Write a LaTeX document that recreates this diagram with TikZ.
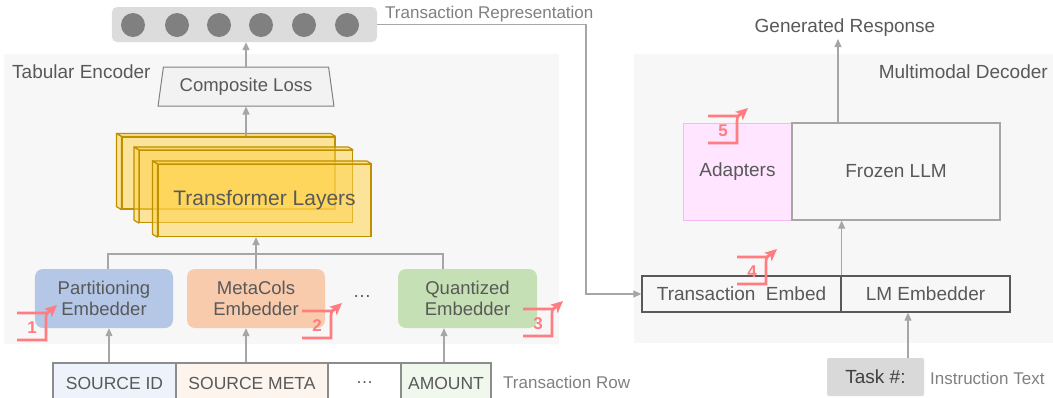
\documentclass[tikz,border=0pt]{standalone}
\usepackage{fontspec}
\setmainfont{Liberation Sans}
\usetikzlibrary{shapes.geometric,arrows.meta}
\definecolor{panelc}{HTML}{F7F7F7}
\definecolor{barc}{HTML}{DCDCDC}
\definecolor{dotc}{HTML}{808080}
\definecolor{linec}{HTML}{A6A6A6}
\definecolor{txtc}{HTML}{595959}
\definecolor{labc}{HTML}{808080}
\definecolor{partc}{HTML}{B4C7E7}
\definecolor{metac}{HTML}{F8CBAD}
\definecolor{quantc}{HTML}{C5E0B4}
\definecolor{srcidc}{HTML}{EEF2FA}
\definecolor{srcmetac}{HTML}{FDF4EE}
\definecolor{amountc}{HTML}{F0F7ED}
\definecolor{cellb}{HTML}{8C8C8C}
\definecolor{tfillc}{HTML}{FFD34D}
\definecolor{tdrawc}{HTML}{BF9000}
\definecolor{adaptc}{HTML}{FFE5FF}
\definecolor{adaptb}{HTML}{F5B8F5}
\definecolor{embb}{HTML}{595959}
\definecolor{taskc}{HTML}{D9D9D9}
\definecolor{taskt}{HTML}{404040}
\definecolor{mkc}{HTML}{FF7C80}
\definecolor{lossb}{HTML}{808080}
\definecolor{lossf}{HTML}{F2F2F2}
\tikzset{
  f17/.style={font=\fontsize{17bp}{20bp}\selectfont},
  f175/.style={font=\fontsize{17.5bp}{20bp}\selectfont},
  f185/.style={font=\fontsize{18.5bp}{21bp}\selectfont},
  f19/.style={font=\fontsize{19bp}{22bp}\selectfont},
  line/.style={draw=linec, line width=1.2bp},
  arr/.style={line, -{Triangle[length=8bp,width=7bp]}},
  lab/.style={f17, text=labc, inner sep=0},
  title/.style={f19, text=txtc, inner sep=0},
  dot/.style={circle, fill=dotc, minimum size=24bp, inner sep=0},
  emb/.style={f185, text=txtc, rounded corners=8bp, minimum width=138bp, minimum height=59bp, align=center, inner sep=0},
  cell/.style={f175, text=txtc, draw=cellb, line width=1.5bp, minimum height=40bp, inner sep=0},
  tface/.style={draw=tdrawc, fill=tfillc, fill opacity=0.55, text opacity=1, line width=1.2bp, minimum width=213bp, minimum height=72bp, inner sep=0},
  tside/.style={draw=tdrawc, fill=tfillc, fill opacity=0.55, line width=1.2bp, line join=round},
  embrow/.style={f19, text=txtc, draw=embb, fill=panelc, line width=1.3bp, minimum height=36bp, inner sep=0},
  mk/.style={draw=mkc, line width=2.6bp},
}
\newcommand\tfbox[4]{%
  \node[tface] (#1) at (#2,#3) {#4};
  \filldraw[tside] (#1.north west) -- ([shift={(-5,-3)}]#1.north west) -- ([shift={(-5,-3)}]#1.north east) -- (#1.north east) -- cycle;
  \filldraw[tside] (#1.north west) -- ([shift={(-5,-3)}]#1.north west) -- ([shift={(-5,-3)}]#1.south west) -- (#1.south west) -- cycle;
}
\newcommand\stepmark[4]{%
  \begin{scope}[shift={(#1,#2)}]
    \draw[mk, -{Stealth[length=12bp,width=11bp,inset=3bp]}] (0,-27) -- (24,-27) .. controls (31,-27) .. (40,-35);
    \draw[mk] (0,0) -- (29,0) -- (29,-19) .. controls (29,-26) .. (33,-30);
    \node[font=\bfseries\fontsize{17bp}{18bp}\selectfont, text=mkc, inner sep=0] (#4) at (15,-12) {#3};
  \end{scope}
}
\begin{document}
\begin{tikzpicture}[x=1bp,y=-1bp]
\useasboundingbox (0,0) rectangle (1053,397);
\clip (0,0) rectangle (1053,397);
% panels
\fill[panelc] (4,54) rectangle (559,344);
\fill[panelc] (634,54) rectangle (1053,343);
\node[title, anchor=base west] (enclab) at (12,78.5) {Tabular Encoder};
\node[title, anchor=base east] (declab) at (1048,78) {Multimodal Decoder};
% representation bar
\node[fill=barc, rounded corners=5bp, minimum width=265bp, minimum height=35bp, inner sep=0] (bar) at (244.5,24.5) {};
\foreach \i/\x in {1/133,2/177,3/219,4/261,5/304,6/347}
  \node[dot] (d\i) at (\x,25) {};
\node[lab, anchor=base west] (replab) at (385,18) {Transaction Representation};
% composite loss
\node[trapezium, draw=lossb, fill=lossf, line width=1bp, trapezium left angle=76, trapezium right angle=76,
      trapezium stretches=true, minimum width=176bp, minimum height=39bp, inner sep=0, f185, text=txtc] (loss) at (246,86.5) {Composite Loss};
% transformer layers
\tfbox{tfC}{228.5}{173}{}
\tfbox{tfB}{246}{186.5}{}
\tfbox{tfA}{264.5}{200.5}{\fontsize{21bp}{24bp}\selectfont\color{txtc}Transformer Layers}
% embedders
\node[emb, fill=partc] (part) at (104,298.5) {Partitioning\\Embedder};
\node[emb, fill=metac] (meta) at (256,298.5) {MetaCols\\Embedder};
\node[emb, fill=quantc, minimum width=139bp] (quant) at (467.5,298.5) {Quantized\\Embedder};
\node[f185, text=txtc, inner sep=0] (edots) at (362,297) {…};
% transaction row
\node[cell, fill=srcidc, minimum width=123bp] (srcid) at (114.5,383) {SOURCE ID};
\node[cell, fill=srcmetac, minimum width=152bp] (srcmeta) at (252,383) {SOURCE META};
\node[cell, fill=white, minimum width=73bp] (rdots) at (364.5,383) {…};
\node[cell, fill=amountc, minimum width=90bp] (amount) at (446,383) {AMOUNT};
\node[lab, anchor=base west] (rowlab) at (503,388) {Transaction Row};
% encoder connectors
\coordinate (xA) at (109,0);
\coordinate (xB) at (246,0);
\coordinate (xQ) at (444,0);
\coordinate (busL) at (108,254);
\coordinate (busR) at (443,254);
\draw[arr] (srcid.north -| xA) -- (part.south -| xA);
\draw[arr] (srcmeta.north -| xB) -- (meta.south -| xB);
\draw[arr] (amount.north -| xQ) -- (quant.south -| xQ);
\draw[line] (part.north -| busL) -- (busL) -- (busR) -- (quant.north -| busR);
\draw[arr] (meta.north) -- (meta.north |- tfA.south);
\draw[arr] (loss.south |- tfC.north) -- (loss.south);
\draw[arr] (loss.north) -- (loss.north |- bar.south);
% decoder
\node[f19, text=txtc, fill=adaptc, draw=adaptb, line width=1bp, minimum width=109bp, minimum height=97bp, inner sep=0] (adapt) at (737.5,171.5) {Adapters};
\node[f19, text=txtc, draw=linec, line width=1.3bp, minimum width=208bp, minimum height=97bp, inner sep=0] (frozen) at (896,171.5) {Frozen LLM};
\node[embrow, minimum width=199bp] (temb) at (741.5,294) {Transaction\ \ Embed};
\node[embrow, minimum width=169bp] (lmemb) at (925.5,294) {LM Embedder};
\node[f19, text=taskt, fill=taskc, rounded corners=2bp, minimum width=97bp, minimum height=38bp, inner sep=0] (task) at (875.5,377) {Task \#:};
\node[lab, anchor=base west] (instlab) at (930,384) {Instruction Text};
\node[title, anchor=base] (genlab) at (845,32) {Generated Response};
% decoder connectors
\coordinate (turn) at (586,294);
\coordinate (gentip) at (838,39);
\coordinate (xT) at (908,0);
\draw[arr] (bar.east) -| (turn) -- (temb.west);
\draw[arr] (temb.north east) -- (temb.north east |- frozen.south);
\draw[arr] (frozen.north -| gentip) -- (gentip);
\draw[arr] (task.north -| xT) -- (lmemb.south -| xT);
% step markers
\stepmark{17}{340}{1}{m1}
\stepmark{302}{338}{2}{m2}
\stepmark{523}{336}{3}{m3}
\stepmark{737}{284}{4}{m4}
\stepmark{708}{143}{5}{m5}
\end{tikzpicture}
\end{document}
